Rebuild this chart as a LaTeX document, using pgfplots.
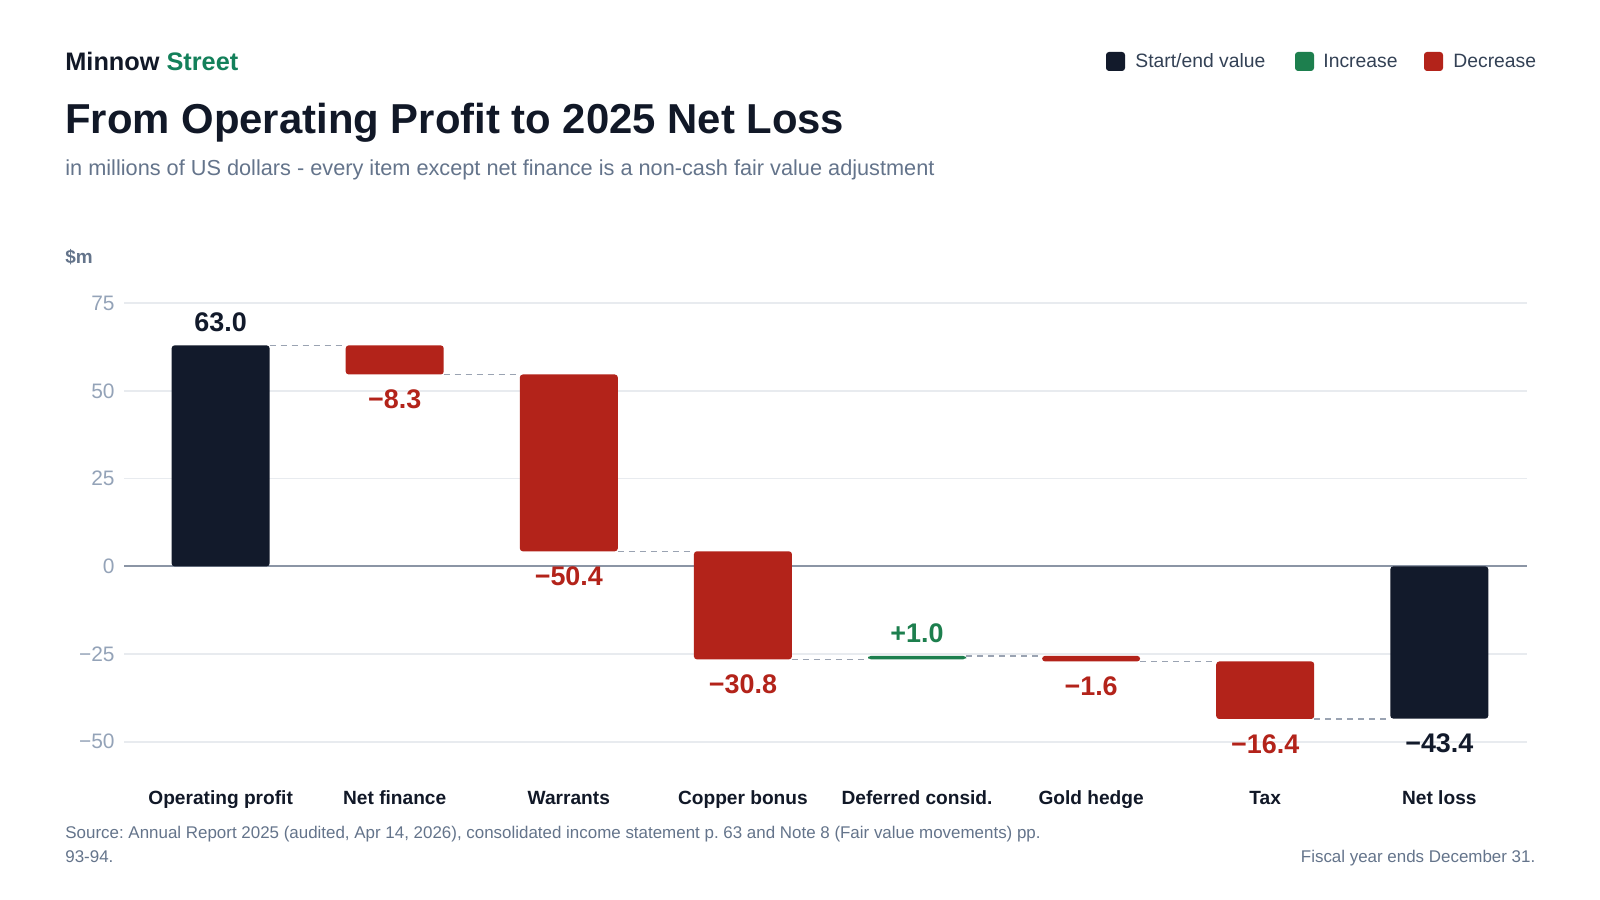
\documentclass[border=0pt]{standalone}
\usepackage{pgfplots}
\pgfplotsset{compat=1.18}
\usepackage{pgfplotstable}
\usepackage{fontspec}
\setmainfont{Liberation Sans}
\frenchspacing
\definecolor{navy}{HTML}{121A2B}
\definecolor{navytext}{HTML}{111827}
\definecolor{grn}{HTML}{1D7F4E}
\definecolor{streetc}{HTML}{13805A}
\definecolor{redc}{HTML}{B3231A}
\definecolor{subc}{HTML}{64748B}
\definecolor{tickc}{HTML}{94A3B8}
\definecolor{legc}{HTML}{334155}
\definecolor{gridc}{HTML}{E8EBEF}
\definecolor{zeroc}{HTML}{8B95A5}
\definecolor{connc}{HTML}{9AA3B2}

\pgfplotstableread{
x base total up down
0 0 63.0 0 0
1 54.7 0 0 8.3
2 4.3 0 0 50.4
3 -26.5 0 0 30.8
4 -26.5 0 1.0 0
5 -27.1 0 0 1.6
6 -43.5 0 0 16.4
7 0 -43.4 0 0
}\wf

\pgfplotsset{wfbase/.style={
  at={(62bp,79.1bp)}, anchor=south west, scale only axis,
  width=701.7bp, height=219.25bp,
  xmin=-0.555, xmax=7.506, ymin=-50, ymax=75, clip=false,
  axis line style={draw=none}, tick style={draw=none}, major tick length=0pt,
}}
\tikzset{
  lblabove/.style={anchor=base, inner sep=0pt, yshift=6.9bp, font=\bfseries\fontsize{13.5}{15}\selectfont},
  lblbelow/.style={anchor=north, inner sep=0pt, yshift=-7.5bp, font=\bfseries\fontsize{13.5}{15}\selectfont},
  conn/.style={draw=connc, line width=0.8bp, dash pattern=on 3bp off 2.5bp},
}

\begin{document}
\begin{tikzpicture}[x=1bp,y=1bp]
\path[use as bounding box, fill=white] (0,0) rectangle (800,450);

\begin{axis}[wfbase, ybar stacked, stack negative=on previous, bar width=0.563,
  ytick={-50,-25,0,25,50,75}, yticklabels={−50,−25,0,25,50,75},
  ymajorgrids, major grid style={color=gridc, line width=0.8bp},
  yticklabel style={font=\fontsize{10.5}{12}\selectfont, text=tickc, anchor=east, inner sep=0pt, xshift=-4.5bp},
  xtick={0,1,2,3,4,5,6,7},
  xticklabels={Operating profit, Net finance, Warrants, Copper bonus, Deferred consid., Gold hedge, Tax, Net loss},
  xticklabel style={font=\bfseries\fontsize{9.6}{12}\selectfont, text=navytext, anchor=base, inner sep=0pt, yshift=-31.25bp},
  extra y ticks={0}, extra y tick labels={},
  extra y tick style={ymajorgrids, major grid style={color=zeroc, line width=0.9bp}},
]
\addplot[fill=none, draw=none] table[x=x, y=base]{\wf};
\addplot[fill=navy, draw=none, rounded corners=1.5bp] table[x=x, y=total]{\wf};
\addplot[fill=grn, draw=none, rounded corners=1.5bp] table[x=x, y=up]{\wf};
\addplot[fill=redc, draw=none, rounded corners=1.5bp] table[x=x, y=down]{\wf};

\node[lblabove, text=navy] at (axis cs:0,63) {63.0};
\node[lblbelow, text=redc] at (axis cs:1,54.7) {−8.3};
\node[lblbelow, text=redc] at (axis cs:2,4.3) {−50.4};
\node[lblbelow, text=redc] at (axis cs:3,-26.5) {−30.8};
\node[lblabove, text=grn] at (axis cs:4,-25.5) {+1.0};
\node[lblbelow, text=redc] at (axis cs:5,-27.1) {−1.6};
\node[lblbelow, text=redc] at (axis cs:6,-43.5) {−16.4};
\node[lblbelow, text=navy] at (axis cs:7,-43.4) {−43.4};
\end{axis}

\begin{axis}[wfbase, hide axis]
\addplot[conn] coordinates {(0.2815,63) (0.7185,63)};
\addplot[conn] coordinates {(1.2815,54.7) (1.7185,54.7)};
\addplot[conn] coordinates {(2.2815,4.3) (2.7185,4.3)};
\addplot[conn] coordinates {(3.2815,-26.5) (3.7185,-26.5)};
\addplot[conn] coordinates {(4.2815,-25.5) (4.7185,-25.5)};
\addplot[conn] coordinates {(5.2815,-27.1) (5.7185,-27.1)};
\addplot[conn] coordinates {(6.2815,-43.5) (6.7185,-43.5)};
\end{axis}

% header
\node[anchor=base west, inner sep=0pt, font=\bfseries\fontsize{12.7}{14}\selectfont] at (32.5,414.65) {\textcolor{navytext}{Minnow} \textcolor{streetc}{Street}};
\node[anchor=base west, inner sep=0pt, font=\bfseries\fontsize{21}{25}\selectfont, text=navytext] at (32.5,383.35) {From Operating Profit to 2025 Net Loss};
\node[anchor=base west, inner sep=0pt, font=\fontsize{10.9}{12}\selectfont, text=subc] at (32.5,362.15) {in millions of US dollars - every item except net finance is a non-cash fair value adjustment};
\node[anchor=base west, inner sep=0pt, font=\bfseries\fontsize{9.5}{11}\selectfont, text=subc] at (32.5,318.35) {\$m};

% legend
\fill[navy, rounded corners=1.5bp] (553,414.5) rectangle ++(9.5,9.5);
\node[anchor=base west, inner sep=0pt, font=\fontsize{9.7}{11}\selectfont, text=legc] at (567.5,416.15) {Start/end value};
\fill[grn, rounded corners=1.5bp] (647.5,414.5) rectangle ++(9.5,9.5);
\node[anchor=base west, inner sep=0pt, font=\fontsize{9.7}{11}\selectfont, text=legc] at (661.5,416.15) {Increase};
\fill[redc, rounded corners=1.5bp] (712,414.5) rectangle ++(9.5,9.5);
\node[anchor=base west, inner sep=0pt, font=\fontsize{9.7}{11}\selectfont, text=legc] at (726.5,416.15) {Decrease};

% footer
\node[anchor=base west, inner sep=0pt, font=\fontsize{8.5}{10}\selectfont, text=subc] at (32.5,30.85) {Source: Annual Report 2025 (audited, Apr 14, 2026), consolidated income statement p. 63 and Note 8 (Fair value movements) pp.};
\node[anchor=base west, inner sep=0pt, font=\fontsize{8.5}{10}\selectfont, text=subc] at (32.5,18.65) {93-94.};
\node[anchor=base east, inner sep=0pt, font=\fontsize{8.5}{10}\selectfont, text=subc] at (767.85,18.85) {Fiscal year ends December 31.};
\end{tikzpicture}
\end{document}
